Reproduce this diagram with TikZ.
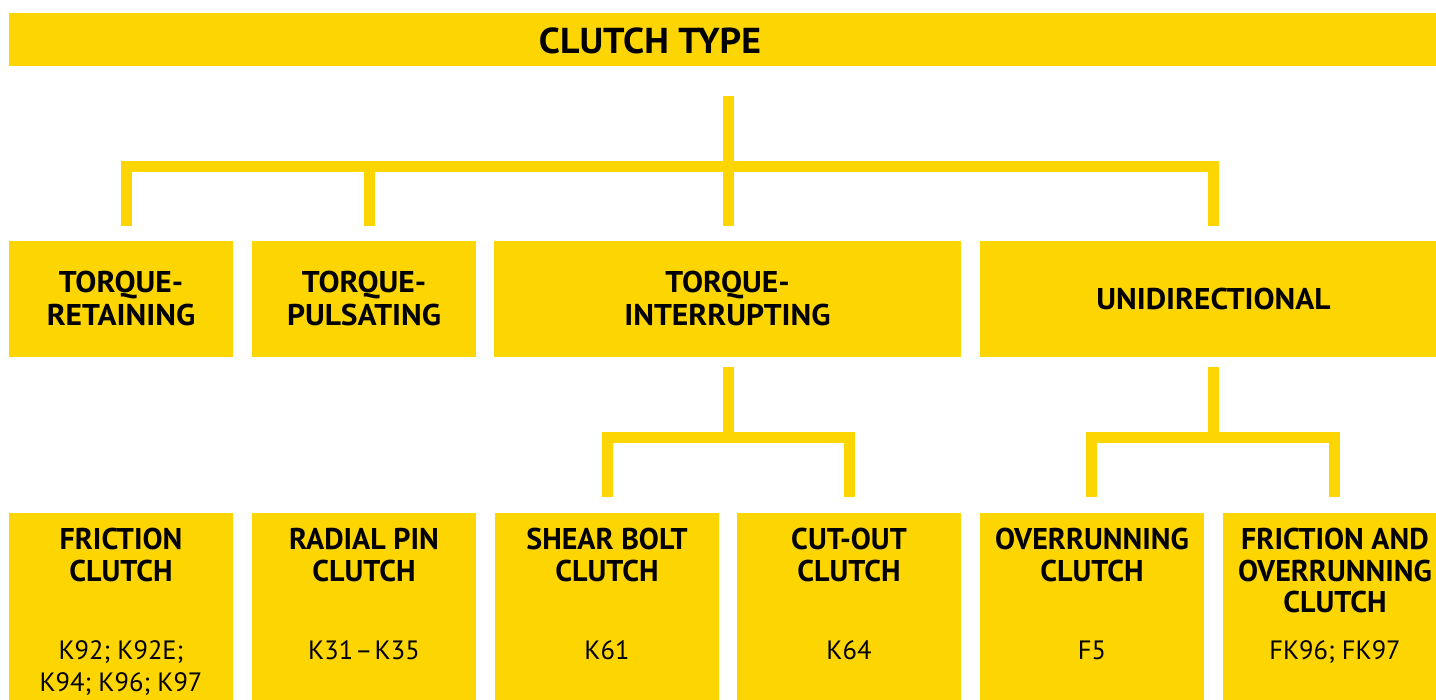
\documentclass[tikz,border=0pt]{standalone}
\usepackage{fontspec}
\setmainfont{PT Sans}
\newfontfamily\widebf{PT Sans}[FakeStretch=1.05]
\usetikzlibrary{calc}
\definecolor{cyel}{RGB}{253,213,0}
\begin{document}
\begin{tikzpicture}[x=1pt,y=-1pt,
  box/.style={rectangle, fill=cyel, draw=none, inner sep=0pt, outer sep=0pt},
  lvone/.style={box, minimum height=116pt},
  lvtwo/.style={box, minimum width=224pt, minimum height=220pt},
  link/.style={draw=cyel, line width=11pt},
  ttl/.style={font=\widebf\bfseries\fontsize{36}{40}\selectfont, inner sep=0pt, anchor=base},
  hd/.style={font=\widebf\bfseries\fontsize{30}{32.5}\selectfont, align=center, inner sep=0pt, anchor=north},
  hdb/.style={font=\bfseries\fontsize{30}{31.5}\selectfont, align=center, inner sep=0pt, anchor=north},
  code/.style={font=\fontsize{26.5}{31.7}\selectfont, align=center, inner sep=0pt, anchor=north}
]
\useasboundingbox (0,0) rectangle (1436,700);
\clip (0,0) rectangle (1436,700);
% boxes
\node[box, minimum width=1438pt, minimum height=53pt] (top) at (728,39.5) {};
\node[lvone, minimum width=224pt] (b1) at (121,299) {};
\node[lvone, minimum width=224pt] (b2) at (364,299) {};
\node[lvone, minimum width=467pt] (b3) at (727.5,299) {};
\node[lvone, minimum width=467pt] (b4) at (1213.5,299) {};
\node[lvtwo] (c1) at (121,623) {};
\node[lvtwo] (c2) at (364,623) {};
\node[lvtwo] (c3) at (607,623) {};
\node[lvtwo] (c4) at (849,623) {};
\node[lvtwo] (c5) at (1092,623) {};
\node[lvtwo] (c6) at (1335,623) {};
% connector end points
\coordinate (t0) at ($(top.south)+(0,30)$);
\coordinate (s1) at ($(b1.north)+(5.5,-15)$);
\coordinate (s2) at ($(b2.north)+(5.5,-15)$);
\coordinate (s3) at ($(b3.north)+(0.5,-15)$);
\coordinate (s4) at ($(b4.north)+(0,-15)$);
\coordinate (u3) at ($(b3.south)+(0.5,10)$);
\coordinate (u4) at ($(b4.south)+(0,10)$);
\coordinate (d3) at ($(c3.north)+(0,-16)$);
\coordinate (d4) at ($(c4.north)+(0,-16)$);
\coordinate (d5) at ($(c5.north)+(-0.5,-16)$);
\coordinate (d6) at ($(c6.north)+(-0.5,-16)$);
% connectors
\draw[link] (t0) -- (s3);
\draw[link] (s1) -- ++(0,-59.5) -| (s4);
\draw[link] (s2) -- ++(0,-65);
\draw[link] (u3) -- ++(0,70.5);
\draw[link] (d3) -- ++(0,-59.5) -| (d4);
\draw[link] (u4) -- ++(0,70.5);
\draw[link] (d5) -- ++(0,-59.5) -| (d6);
% texts
\node[ttl] (ttop) at (650,53.3) {CLUTCH TYPE};
\node[hd] (tb1) at (121,271) {TORQUE-\\RETAINING};
\node[hd] (tb2) at (364,271) {TORQUE-\\PULSATING};
\node[hd] (tb3) at (727.5,271) {TORQUE-\\INTERRUPTING};
\node[hd, anchor=base] (tb4) at (1213.5,309.3) {UNIDIRECTIONAL};
\node[hdb] (tc1) at (121,528) {FRICTION\\CLUTCH};
\node[hdb] (tc2) at (364,528) {RADIAL PIN\\CLUTCH};
\node[hdb] (tc3) at (607,528) {SHEAR BOLT\\CLUTCH};
\node[hdb] (tc4) at (849,528) {CUT-OUT\\CLUTCH};
\node[hdb] (tc5) at (1092,528) {OVERRUNNING\\CLUTCH};
\node[hdb] (tc6) at (1335,528) {FRICTION AND\\OVERRUNNING\\CLUTCH};
\node[code] (kc1) at (121,640.5) {K92; K92E;\\K94; K96; K97};
\node[code] (kc2) at (364,640.5) {K31\kern2pt--\kern2pt K35};
\node[code] (kc3) at (607,640.5) {K61};
\node[code] (kc4) at (849,640.5) {K64};
\node[code] (kc5) at (1092,640.5) {F5};
\node[code] (kc6) at (1335,640.5) {FK96; FK97};
\end{tikzpicture}
\end{document}
